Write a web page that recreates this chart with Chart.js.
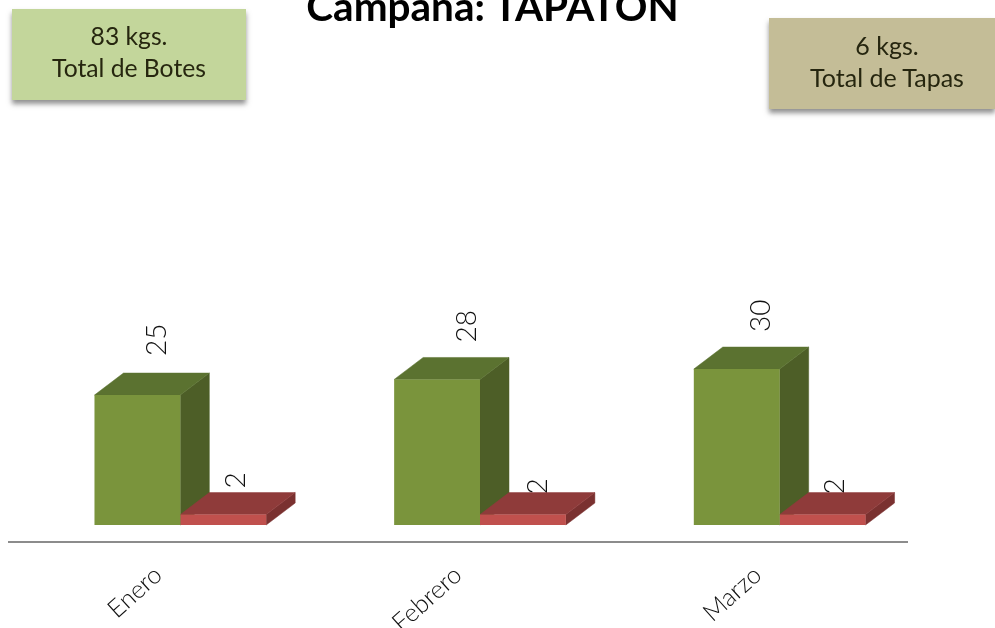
<!DOCTYPE html>
<html><head><meta charset="utf-8">
<script src="https://cdn.jsdelivr.net/npm/chart.js@4"></script>
<style>
html,body{margin:0;padding:0;background:#fff;overflow:hidden}
#wrap{position:relative;width:995px;height:628px;overflow:hidden}
canvas{position:absolute;left:0;top:0}
#title{position:absolute;left:0;width:985px;top:-19px;text-align:center;font:bold 40.5px Lato,sans-serif;color:#000;white-space:nowrap}
.box{position:absolute;text-align:center;font:25px/32px Lato,sans-serif;color:#26260f;box-shadow:0 4px 5px rgba(70,70,70,.6);padding-top:11px;box-sizing:border-box}
</style></head><body>
<div id="wrap">
<canvas id="c" width="995" height="628"></canvas>
<div id="title">Campaña: TAPATÓN</div>
<div class="box" style="left:12px;top:9px;width:234px;height:91px;font-size:24.7px;background:#c3d69b">83 kgs.<br>Total de Botes</div>
<div class="box" style="left:769px;top:18px;width:226px;height:91px;padding-left:10px;background:#c4bd97">6 kgs.<br>Total de Tapas</div>
</div>
<script>
const categories = ["Enero", "Febrero", "Marzo"];
const botes = [25, 28, 30];
const tapas = [2, 2, 2];
const yMax = 101;
const depthX = 29, depthY = 22;
const labelShift = [[20, 30, 24], [13, 15, 12]];
const labelRise = [[17, 15, 15], [4, -2, -2]];
const faces = [
  {front:"#7a943c", top:"#5b7230", side:"#4d5e27"},
  {front:"#c0504d", top:"#8f3b3a", side:"#7a3130"}
];
function poly(ctx, pts, fill){
  ctx.fillStyle = fill; ctx.strokeStyle = fill; ctx.lineWidth = 0.5; ctx.beginPath();
  pts.forEach((p,i)=> i ? ctx.lineTo(p[0],p[1]) : ctx.moveTo(p[0],p[1]));
  ctx.closePath(); ctx.fill(); ctx.stroke();
}
const box3d = {
  id:"box3d",
  beforeDatasetsDraw(chart){
    const ctx = chart.ctx;
    // value labels sit behind the boxes
    chart.data.datasets.forEach((ds,d)=>{
      chart.getDatasetMeta(d).data.forEach((bar,i)=>{
        ctx.save();
        ctx.translate(bar.x + labelShift[d][i], bar.y - depthY - labelRise[d][i]);
        ctx.rotate(-Math.PI/2);
        ctx.fillStyle = "#111"; ctx.font = "300 28px Lato, sans-serif";
        ctx.textAlign = "left"; ctx.textBaseline = "middle";
        ctx.fillText(ds.data[i], 0, 0);
        ctx.restore();
      });
    });
    chart.data.datasets.forEach((ds,d)=>{
      chart.getDatasetMeta(d).data.forEach(bar=>{
        const l = bar.x - bar.width/2, r = bar.x + bar.width/2, t = bar.y, b = bar.base;
        poly(ctx, [[r,t],[r+depthX,t-depthY],[r+depthX,b-depthY],[r,b]], faces[d].side);
        poly(ctx, [[l,t],[l+depthX,t-depthY],[r+depthX,t-depthY],[r,t]], faces[d].top);
      });
    });
  },
  afterDraw(chart){
    const ctx = chart.ctx, a = chart.scales.x, y0 = chart.scales.y.getPixelForValue(0);
    ctx.save();
    ctx.strokeStyle = "#8c8c8c"; ctx.lineWidth = 2;
    ctx.beginPath(); ctx.moveTo(8, y0 + 17); ctx.lineTo(a.right - 21.5, y0 + 17); ctx.stroke();
    ctx.restore();
  }
};
new Chart(document.getElementById("c"), {
  type:"bar",
  data:{labels:categories, datasets:[
    {label:"Botes", data:botes, backgroundColor:faces[0].front},
    {label:"Tapas", data:tapas, backgroundColor:faces[1].front}
  ]},
  options:{
    responsive:false, animation:false,
    layout:{padding:{left:30.5,right:65.5,top:0,bottom:0},autoPadding:false},
    plugins:{legend:{display:false},title:{display:false},tooltip:{enabled:false}},
    datasets:{bar:{barPercentage:1,categoryPercentage:0.573}},
    scales:{
      x:{
        grid:{display:false},border:{display:false},
        afterFit(s){s.height=103;},
        ticks:{color:"#111",font:{family:"Lato, sans-serif",size:25,weight:"300"},minRotation:42,maxRotation:42,padding:27,labelOffset:-22,autoSkip:false}
      },
      y:{display:false,min:0,max:yMax}
    }
  },
  plugins:[box3d]
});
</script>
</body></html>
